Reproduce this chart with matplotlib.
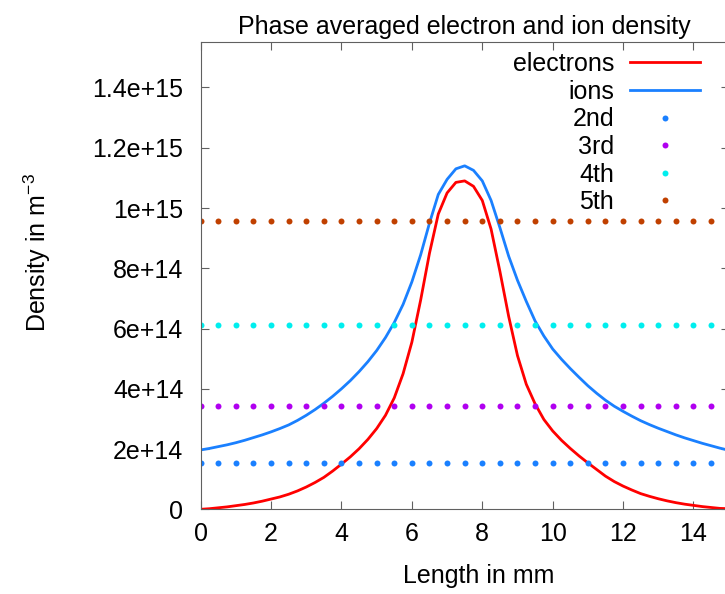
import numpy as np
import matplotlib
matplotlib.use('Agg')
import matplotlib.pyplot as plt
from matplotlib.ticker import FuncFormatter

plt.rcParams['font.family'] = ['Liberation Sans', 'DejaVu Sans']
plt.rcParams['mathtext.fontset'] = 'custom'
plt.rcParams['mathtext.rm'] = 'Liberation Sans'
plt.rcParams['mathtext.it'] = 'Liberation Sans'

# position along the gap in mm (0.25 mm sampling)
length_mm = np.arange(0, 15.01, 0.25)

# phase averaged densities in units of 1e14 m^-3
electrons = [0.0, 0.02, 0.05, 0.08, 0.12, 0.16, 0.21, 0.27, 0.34, 0.41, 0.5,
             0.61, 0.74, 0.89, 1.06, 1.27, 1.5, 1.74, 2.01, 2.32, 2.68, 3.12,
             3.7, 4.5, 5.55, 6.95, 8.5, 9.8, 10.5, 10.85, 10.9, 10.72, 10.25,
             9.3, 7.9, 6.4, 5.1, 4.15, 3.5, 2.98, 2.6, 2.29, 2.02, 1.77, 1.54,
             1.32, 1.1, 0.92, 0.77, 0.64, 0.52, 0.43, 0.35, 0.28, 0.22, 0.17,
             0.13, 0.09, 0.06, 0.03, 0.02]
ions = [1.97, 2.02, 2.08, 2.14, 2.21, 2.29, 2.38, 2.47, 2.57, 2.68, 2.8, 2.95,
        3.12, 3.31, 3.52, 3.75, 4.0, 4.27, 4.57, 4.9, 5.27, 5.7, 6.2, 6.8,
        7.55, 8.45, 9.5, 10.45, 10.95, 11.3, 11.4, 11.25, 10.9, 10.25, 9.35,
        8.4, 7.6, 6.9, 6.25, 5.75, 5.32, 4.98, 4.67, 4.38, 4.1, 3.85, 3.62,
        3.42, 3.25, 3.09, 2.94, 2.81, 2.69, 2.58, 2.47, 2.37, 2.28, 2.19,
        2.11, 2.03, 1.96]

# constant harmonic levels (1e14 m^-3)
level_names = ['2nd', '3rd', '4th', '5th']
level_values = [1.53, 3.44, 6.12, 9.56]
level_colors = ['#1a80ff', '#b000f0', '#00eeee', '#c04000']

dot_x = np.arange(0, 15.01, 0.5)

fig = plt.figure(figsize=(7.25, 5.94), dpi=100)
# right edge of the frame sits just outside the picture, like the original
ax = fig.add_axes([0.2768, 0.1426, 0.7283, 0.7862])

ax.plot(length_mm, np.array(electrons) * 1e14, color='#ff0000', lw=2.0, label='electrons')
ax.plot(length_mm, np.array(ions) * 1e14, color='#1a80ff', lw=2.0, label='ions')
for name, val, col in zip(level_names, level_values, level_colors):
    ax.plot(dot_x, np.full(len(dot_x), val * 1e14), linestyle='none',
            marker='o', markersize=4.3, markeredgewidth=0, color=col, label=name)

ax.set_xlim(0, 15)
ax.set_ylim(0, 1.55e15)
ax.set_xticks(range(0, 15, 2))
ax.set_yticks(np.arange(0, 1.41e15, 2e14))
ax.yaxis.set_major_formatter(FuncFormatter(lambda v, p: '%g' % v))

ax.tick_params(direction='in', length=5.8, width=0.8, color='#606060',
               labelsize=18, top=True, right=True)
ax.tick_params(axis='x', pad=9)
ax.tick_params(axis='y', pad=12.5)
for s in ax.spines.values():
    s.set_color('#606060')
    s.set_linewidth(0.8)

ax.set_title('Phase averaged electron and ion density', fontsize=18, pad=6)
ax.set_xlabel('Length in mm', fontsize=18)
ax.set_ylabel('Density in m$^{-3}$', fontsize=18)
ax.xaxis.set_label_coords(0.527, -0.117)
ax.yaxis.set_label_coords(-0.28, 0.55)

ax.legend(loc='upper right', bbox_to_anchor=(0.9456, 0.979), frameon=False,
          markerfirst=False, fontsize=18, borderaxespad=0, borderpad=0,
          handlelength=2.8, handletextpad=0.64, labelspacing=0.145)

fig.savefig('out.png', dpi=100)
